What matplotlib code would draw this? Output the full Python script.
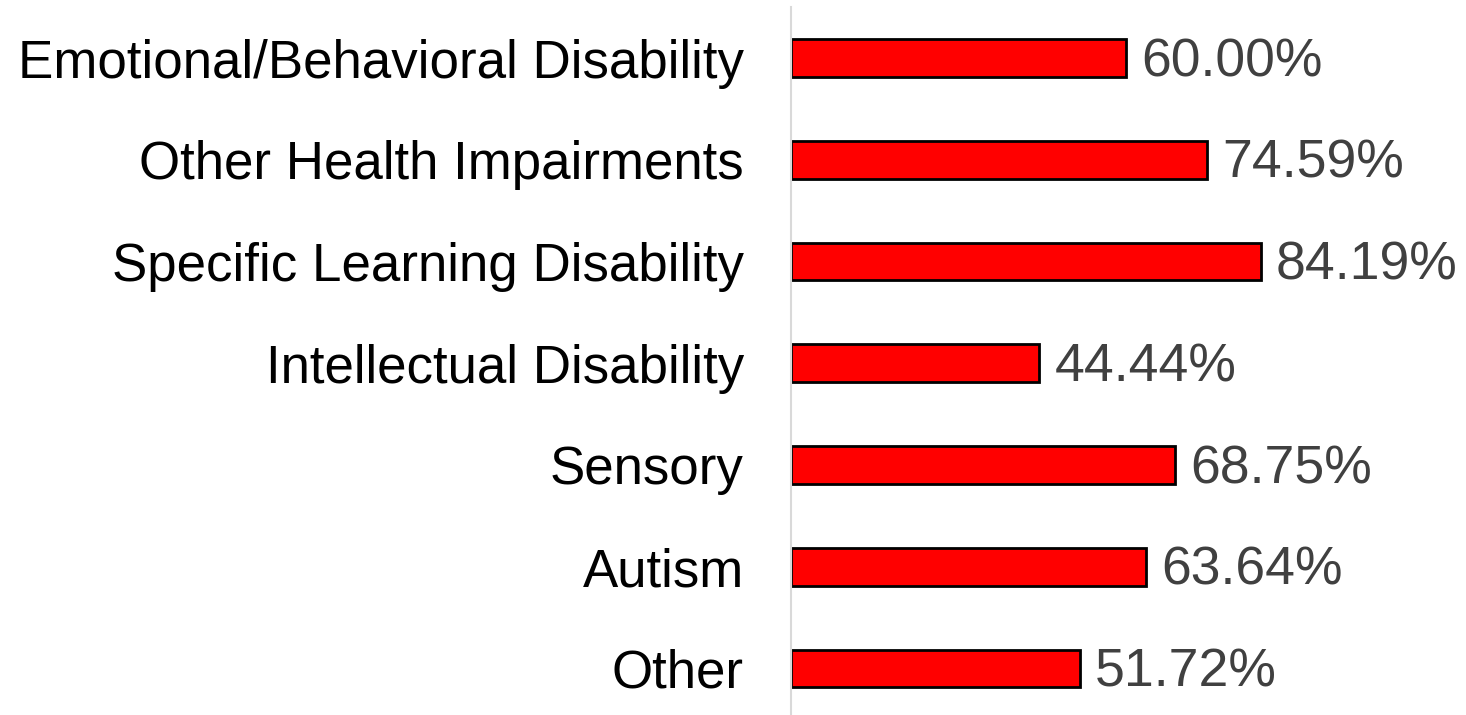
import matplotlib
matplotlib.use("Agg")
import matplotlib.pyplot as plt

categories = ["Emotional/Behavioral Disability", "Other Health Impairments",
              "Specific Learning Disability", "Intellectual Disability",
              "Sensory", "Autism", "Other"]
values = [60.00, 74.59, 84.19, 44.44, 68.75, 63.64, 51.72]
value_labels = ["60.00%", "74.59%", "84.19%", "44.44%", "68.75%", "63.64%", "51.72%"]

plt.rcParams['font.family'] = ['Liberation Sans', 'DejaVu Sans']

fig = plt.figure(figsize=(14.66, 7.15), dpi=100)
ax = fig.add_axes([791/1466, -0.006, 558/1466, 0.996])

ypos = list(range(len(categories)))[::-1]
ax.barh(ypos, values, height=0.37, color="#ff0000", edgecolor="black", linewidth=2)
ax.set_xlim(0, 100)
ax.set_ylim(-0.5, 6.5)
ax.set_yticks(ypos)
ax.set_yticklabels(categories, fontsize=38.1, color="black")
ax.tick_params(axis="y", length=0, pad=34)
ax.set_xticks([])
for s in ["top", "right", "bottom"]:
    ax.spines[s].set_visible(False)
ax.spines["left"].set_color("#d9d9d9")
ax.spines["left"].set_linewidth(1.5)

for y, v, lab in zip(ypos, values, value_labels):
    ax.annotate(lab, (v, y), xytext=(11, 1), textcoords="offset points",
                ha="left", va="center_baseline", fontsize=38.5, color="#404040")

fig.savefig("out.png", dpi=100)
